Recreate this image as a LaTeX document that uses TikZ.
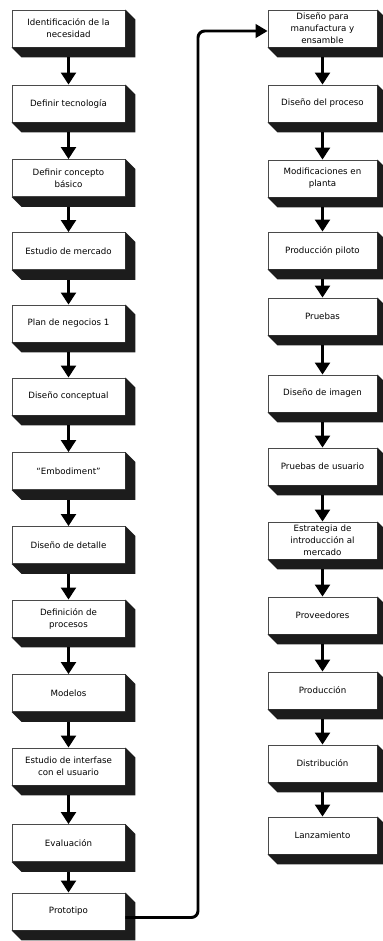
\documentclass[tikz,border=0pt]{standalone}
\usepackage{fontspec}
\setmainfont{DejaVu Sans}
\usetikzlibrary{arrows.meta,calc}
\definecolor{sidedark}{HTML}{1C1C1C}
\definecolor{edgegray}{HTML}{4A4A4A}
\begin{document}
\begin{tikzpicture}[x=0.75pt,y=-0.75pt,
  face/.style={draw=edgegray,line width=0.6pt,fill=white,minimum height=27.75pt,
    inner sep=1pt,align=center,font=\fontsize{6.5}{9}\selectfont},
  lface/.style={face,minimum width=84.75pt},
  rface/.style={face,minimum width=81.75pt},
  extrude/.style={fill=sidedark},
  flow/.style={line width=2.6pt,-{Triangle[length=9pt,width=11pt]}},
  link/.style={line width=2.2pt,rounded corners=5pt,-{Triangle[length=9pt,width=10pt]}},
]
\useasboundingbox (0,0) rectangle (382,941);

% left column
\node[lface] (l1)  at (68.5, 28.5) {Identificación de la\\necesidad};
\node[lface] (l2)  at (68.5,103.5) {Definir tecnología};
\node[lface] (l3)  at (68.5,178)   {Definir concepto\\básico};
\node[lface] (l4)  at (68.5,251)   {Estudio de mercado};
\node[lface] (l5)  at (68.5,323.5) {Plan de negocios 1};
\node[lface] (l6)  at (68.5,396.5) {Diseño conceptual};
\node[lface] (l7)  at (68.5,471)   {“Embodiment”};
\node[lface] (l8)  at (68.5,545)   {Diseño de detalle};
\node[lface] (l9)  at (68.5,618.5) {Definición de\\procesos};
\node[lface] (l10) at (68.5,693)   {Modelos};
\node[lface] (l11) at (68.5,766.5) {Estudio de interfase\\con el usuario};
\node[lface] (l12) at (68.5,843)   {Evaluación};
\node[lface] (l13) at (68.5,911.5) {Prototipo};

% right column
\node[rface] (r1)  at (322.5, 28.5) {Diseño para\\manufactura y\\ensamble};
\node[rface] (r2)  at (322.5,103.5) {Diseño del proceso};
\node[rface] (r3)  at (322.5,178.5) {Modificaciones en\\planta};
\node[rface] (r4)  at (322.5,250.5) {Producción piloto};
\node[rface] (r5)  at (322.5,316.5) {Pruebas};
\node[rface] (r6)  at (322.5,393.5) {Diseño de imagen};
\node[rface] (r7)  at (322.5,466.5) {Pruebas de usuario};
\node[rface] (r8)  at (322.5,540.5) {Estrategia de\\introducción al\\mercado};
\node[rface] (r9)  at (322.5,615.5) {Proveedores};
\node[rface] (r10) at (322.5,690.5) {Producción};
\node[rface] (r11) at (322.5,763.5) {Distribución};
\node[rface] (r12) at (322.5,835.5) {Lanzamiento};

% extruded dark sides below and right of each box
\foreach \c/\n in {l/13,r/12}{
  \foreach \i in {1,...,\n}{
    \path[extrude] (\c\i.south west) -- ++(10,10)
      -- ([shift={(10,10)}]\c\i.south east)
      -- ([shift={(10,10)}]\c\i.north east)
      -- (\c\i.north east) -- (\c\i.south east) -- cycle;
  }
}

% downward arrows inside each column
\foreach \i [evaluate=\i as \j using int(\i+1)] in {1,...,12}
  \draw[flow] ([yshift=-7.5pt]l\i.south) -- (l\j.north);
\foreach \i [evaluate=\i as \j using int(\i+1)] in {1,...,11}
  \draw[flow] ([yshift=-7.5pt]r\i.south) -- (r\j.north);

% link from the prototype to the second column
\coordinate (bend) at (198,31);
\draw[link] ([yshift=-4.5pt]l13.east) -| (bend) -- (bend -| r1.west);
\end{tikzpicture}
\end{document}
